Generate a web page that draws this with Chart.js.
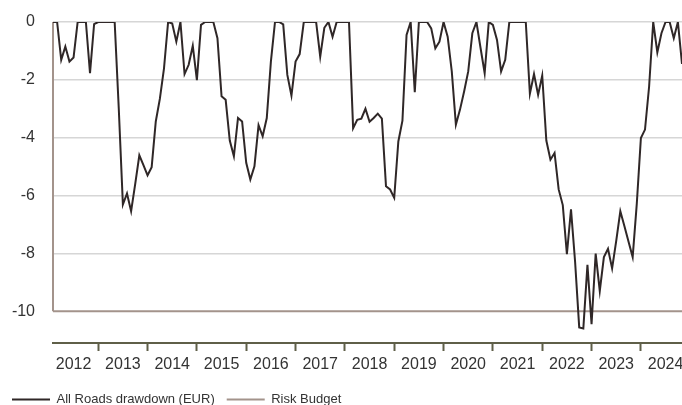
<!DOCTYPE html>
<html>
<head>
<meta charset="utf-8">
<script src="https://cdn.jsdelivr.net/npm/chart.js@4.4.1/dist/chart.umd.min.js"></script>
<style>
  html, body { margin: 0; padding: 0; background: #fff; overflow: hidden; }
  #wrap { position: relative; width: 682px; height: 416px; }
</style>
</head>
<body>
<div id="wrap"><canvas id="chart"></canvas></div>
<script>
// Drawdown mensual (fin de mes) desde enero 2012, en %
const firstYear = 2012;
const drawdown = [
    0, 0, -1.31, -0.85, -1.37, -1.23, 0, 0, 0, -1.77, -0.07, 0,
    0, 0, 0, 0, -3.0, -6.31, -5.93, -6.54, -5.6, -4.61, -4.95, -5.3,
    -5.02, -3.44, -2.65, -1.6, 0, -0.05, -0.68, 0, -1.8, -1.48, -0.82, -2.01,
    -0.1, 0, 0, 0, -0.56, -2.57, -2.69, -4.1, -4.64, -3.32, -3.44, -4.87,
    -5.45, -4.99, -3.57, -3.95, -3.32, -1.37, 0, 0, -0.08, -1.83, -2.55, -1.37,
    -1.11, 0, 0, 0, 0, -1.2, -0.2, 0, -0.51, 0, 0, 0,
    0, -3.67, -3.38, -3.34, -3.0, -3.45, -3.32, -3.17, -3.34, -5.68, -5.79, -6.08,
    -4.13, -3.41, -0.45, 0, -2.43, 0, 0, 0, -0.22, -0.91, -0.68, 0,
    -0.51, -1.71, -3.55, -3.03, -2.4, -1.71, -0.39, 0, -0.9, -1.77, 0, -0.1,
    -0.62, -1.71, -1.31, 0, 0, 0, 0, 0, -2.48, -1.8, -2.52, -1.85,
    -4.1, -4.76, -4.53, -5.79, -6.33, -8.03, -6.48, -8.3, -10.56, -10.6, -8.4, -10.45,
    -8.01, -9.3, -8.13, -7.84, -8.52, -7.57, -6.54, -7.06, -7.6, -8.13, -6.29, -4.01,
    -3.72, -2.23, 0, -1.05, -0.39, 0, 0, -0.56, 0, -1.45
];
const riskBudget = -10;
const yearLabels = ['2012', '2013', '2014', '2015', '2016', '2017', '2018',
                    '2019', '2020', '2021', '2022', '2023', '2024'];
const yTicks = [0, -2, -4, -6, -8, -10];
const seriesNames = ['All Roads drawdown (EUR)', 'Risk Budget'];

const lineColor = '#2f2727';
const budgetColor = '#a3938b';
const axisColor = '#5f5f48';
const textColor = '#333333';

// Fecha decimal de cada fin de mes
const points = drawdown.map((v, i) => ({ x: firstYear + (i + 1) / 12, y: v }));
const xMin = points[0].x;
const xMax = points[points.length - 1].x;

const family = '"Liberation Sans", Arial, sans-serif';
const tickSize = 16;
const legendSize = 13;

// Línea del eje izquierdo, sólo de 0 a -10
const ejeIzquierdo = {
    id: 'ejeIzquierdo',
    beforeDatasetsDraw(chart) {
        const { ctx, chartArea, scales } = chart;
        ctx.save();
        ctx.strokeStyle = budgetColor;
        ctx.lineWidth = 2;
        ctx.beginPath();
        ctx.moveTo(chartArea.left, scales.y.getPixelForValue(yTicks[0]));
        ctx.lineTo(chartArea.left, scales.y.getPixelForValue(riskBudget));
        ctx.stroke();
        ctx.restore();
    }
};

new Chart(document.getElementById('chart'), {
    type: 'line',
    data: {
        datasets: [{
            label: seriesNames[0],
            data: points,
            borderColor: lineColor,
            backgroundColor: lineColor,
            borderWidth: 2,
            pointRadius: 0,
            tension: 0
        }, {
            label: seriesNames[1],
            data: [{ x: xMin, y: riskBudget }, { x: xMax, y: riskBudget }],
            borderColor: budgetColor,
            backgroundColor: budgetColor,
            borderWidth: 2,
            pointRadius: 0
        }]
    },
    options: {
        responsive: true,
        maintainAspectRatio: false,
        animation: false,
        layout: { padding: { top: 22, left: 0, right: 0, bottom: 0 } },
        scales: {
            x: {
                type: 'linear',
                min: xMin,
                max: xMax,
                afterBuildTicks: scale => {
                    const t = [];
                    yearLabels.forEach((y, i) => {
                        const yr = firstYear + i;
                        if (yr > xMin) t.push({ value: yr });
                        t.push({ value: yr + 0.5 });
                    });
                    scale.ticks = t;
                },
                afterFit: scale => {
                    scale.paddingLeft = 0;
                    scale.paddingRight = 0;
                    scale.height = 38;
                },
                border: { color: axisColor, width: 2 },
                grid: {
                    drawOnChartArea: false,
                    tickLength: 8,
                    tickWidth: 2,
                    tickColor: ctx => (ctx.tick && Number.isInteger(ctx.tick.value)) ? axisColor : 'rgba(0,0,0,0)'
                },
                ticks: {
                    autoSkip: false,
                    maxRotation: 0,
                    padding: 4,
                    color: textColor,
                    font: { family: family, size: tickSize },
                    callback: value => Number.isInteger(value) ? '' : yearLabels[Math.floor(value) - firstYear]
                }
            },
            y: {
                min: -11.1,
                max: 0,
                afterBuildTicks: scale => {
                    scale.ticks = yTicks.map(v => ({ value: v }));
                },
                afterFit: scale => {
                    scale.width = 53;
                    scale.paddingTop = 0;
                    scale.paddingBottom = 0;
                },
                border: { display: false },
                grid: {
                    drawTicks: false,
                    lineWidth: 1.5,
                    color: ctx => (ctx.tick && ctx.tick.value === riskBudget) ? 'rgba(0,0,0,0)' : '#d6d6d6'
                },
                ticks: {
                    padding: 18,
                    color: textColor,
                    font: { family: family, size: tickSize },
                    callback: value => String(value)
                }
            }
        },
        plugins: {
            legend: {
                position: 'bottom',
                align: 'start',
                labels: {
                    boxWidth: 38,
                    boxHeight: 2,
                    padding: 12,
                    color: textColor,
                    font: { family: family, size: legendSize },
                    generateLabels: chart => {
                        const items = Chart.defaults.plugins.legend.labels.generateLabels(chart);
                        items.forEach(it => { it.fillStyle = it.strokeStyle; it.lineWidth = 0; });
                        return items;
                    }
                }
            },
            tooltip: { enabled: false }
        }
    },
    plugins: [ejeIzquierdo]
});
</script>
</body>
</html>
